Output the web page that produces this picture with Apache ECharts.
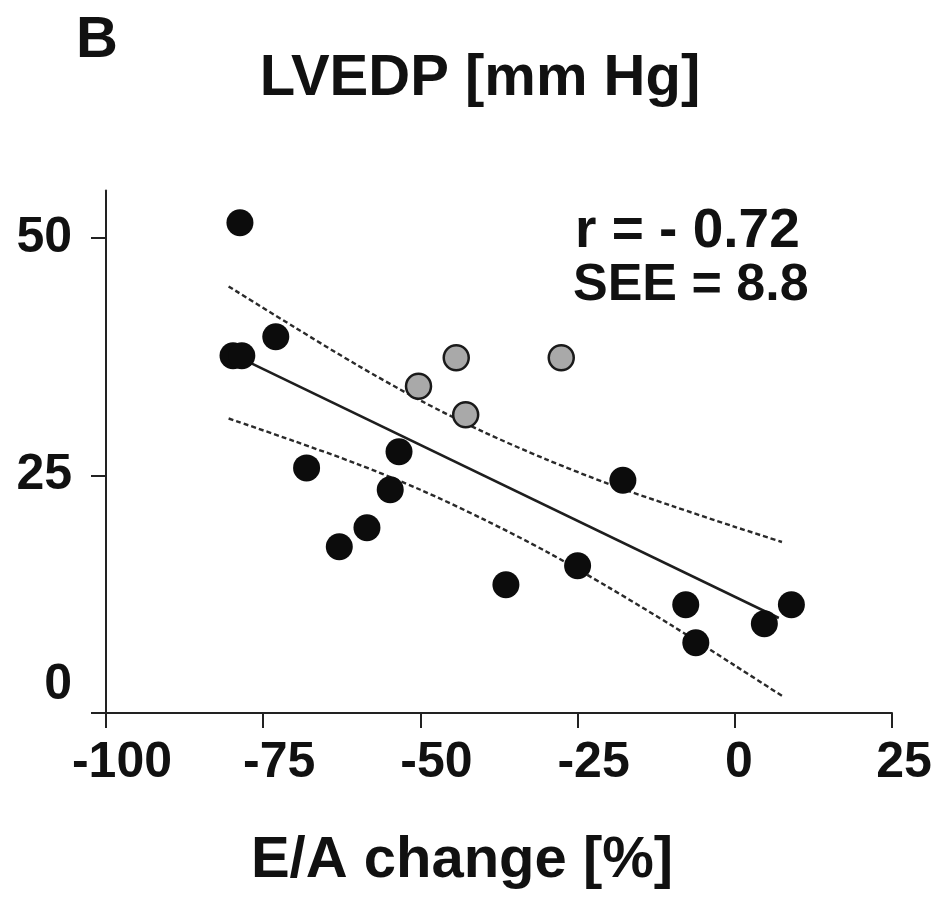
<!DOCTYPE html>
<html>
<head>
<meta charset="utf-8">
<title>LVEDP vs E/A change</title>
<script src="https://cdn.jsdelivr.net/npm/echarts@6/dist/echarts.min.js"></script>
<style>
  html, body { margin: 0; padding: 0; background: #ffffff; }
  #chart { width: 939px; height: 898px; }
</style>
</head>
<body>
<div id="chart"></div>
<script>
// Axis ticks
const xTicks = [-100, -75, -50, -25, 0, 25];
const yTicks = [0, 25, 50];

// Patients shown as filled black circles: [E/A change %, LVEDP mm Hg]
const blackPoints = [
  [-78.7, 51.6],
  [-79.8, 37.6],
  [-78.4, 37.6],
  [-73.0, 39.6],
  [-68.1, 25.8],
  [-62.9, 17.5],
  [-58.5, 19.5],
  [-54.8, 23.5],
  [-53.4, 27.5],
  [-36.4, 13.5],
  [-25.0, 15.5],
  [-17.8, 24.5],
  [-7.8, 11.4],
  [-6.2, 7.4],
  [4.7, 9.4],
  [9.0, 11.4]
];

// Patients shown as grey circles
const greyPoints = [
  [-50.3, 34.4],
  [-44.3, 37.4],
  [-42.8, 31.4],
  [-27.6, 37.4]
];

// Regression line end points
const regX = [-80, 7];
const regY = [37.8, 10.0];

// Confidence band, sampled along E/A change
const bandX = [-80.5, -70, -60, -50, -40, -30, -20, -10, 0, 7.5];
const bandUpper = [44.9, 40.6, 36.6, 32.9, 29.6, 26.7, 24.1, 21.8, 19.6, 18.0];
const bandLower = [31.0, 28.6, 26.2, 23.5, 20.4, 17.0, 13.2, 9.2, 5.0, 1.8];

const statLines = ['r = - 0.72', 'SEE = 8.8'];

const FONT = '"Liberation Sans", Arial, Helvetica, sans-serif';
const INK = '#111111';

const zip = (xs, ys) => xs.map((x, i) => [x, ys[i]]);

const labelFont = { fontSize: 50, fontWeight: 'bold', fontFamily: FONT, color: INK };

const chart = echarts.init(document.getElementById('chart'), null, { renderer: 'canvas' });

chart.setOption({
  backgroundColor: '#ffffff',
  animation: false,
  grid: { left: 106, right: 47, top: 190.5, bottom: 185 },
  xAxis: {
    type: 'value',
    min: xTicks[0],
    max: xTicks[xTicks.length - 1],
    interval: 25,
    splitLine: { show: false },
    axisLine: { onZero: false, lineStyle: { color: '#222', width: 2 } },
    axisTick: { length: 15, lineStyle: { color: '#222', width: 2 } },
    axisLabel: {
      margin: 50,
      verticalAlign: 'middle',
      formatter: v => v < 0 ? '{n|' + v + '}' : (v === 0 ? '{z|0}' : '{p|' + v + '}'),
      rich: {
        n: Object.assign({ padding: [0, 0, 0, 32] }, labelFont),
        z: Object.assign({ padding: [0, 0, 0, 8] }, labelFont),
        p: Object.assign({ padding: [0, 0, 0, 24] }, labelFont)
      }
    }
  },
  yAxis: {
    type: 'value',
    min: 0,
    max: 55,
    splitLine: { show: false },
    axisLine: { onZero: false, lineStyle: { color: '#222', width: 2 } },
    axisTick: { length: 15, lineStyle: { color: '#222', width: 2 }, customValues: yTicks },
    axisLabel: {
      margin: 34,
      customValues: yTicks,
      formatter: v => v === 0 ? '{z|0}' : '{a|' + v + '}',
      rich: {
        a: Object.assign({}, labelFont),
        z: Object.assign({ padding: [0, 0, 56, 0] }, labelFont)
      }
    }
  },
  series: [
    {
      name: 'regression',
      type: 'line',
      data: zip(regX, regY),
      symbol: 'none',
      silent: true,
      lineStyle: { color: '#1e1e1e', width: 2.5 },
      z: 2
    },
    {
      name: 'upper band',
      type: 'line',
      data: zip(bandX, bandUpper),
      symbol: 'none',
      smooth: 0.3,
      silent: true,
      lineStyle: { color: '#2a2a2a', width: 2.4, type: [5, 3] },
      z: 2
    },
    {
      name: 'lower band',
      type: 'line',
      data: zip(bandX, bandLower),
      symbol: 'none',
      smooth: 0.3,
      silent: true,
      lineStyle: { color: '#2a2a2a', width: 2.4, type: [5, 3] },
      z: 2
    },
    {
      name: 'black',
      type: 'scatter',
      data: blackPoints,
      symbol: 'circle',
      symbolSize: 27,
      itemStyle: { color: '#0c0c0c', opacity: 1 },
      z: 5
    },
    {
      name: 'grey',
      type: 'scatter',
      data: greyPoints,
      symbol: 'circle',
      symbolSize: 25,
      itemStyle: { color: '#a9a9a9', borderColor: '#1a1a1a', borderWidth: 2.5, opacity: 1 },
      z: 5
    }
  ],
  graphic: [
    {
      type: 'text', left: 76, top: 12,
      style: { text: 'B', font: 'bold 58px ' + FONT, fill: INK }
    },
    {
      type: 'text', x: 480, y: 79,
      style: { text: 'LVEDP [mm Hg]', font: 'bold 58px ' + FONT, fill: INK, align: 'center', verticalAlign: 'middle' }
    },
    {
      type: 'text', x: 575, y: 232,
      style: { text: statLines[0], font: 'bold 55px ' + FONT, fill: INK, align: 'left', verticalAlign: 'middle' }
    },
    {
      type: 'text', x: 573, y: 286,
      style: { text: statLines[1], font: 'bold 52px ' + FONT, fill: INK, align: 'left', verticalAlign: 'middle' }
    },
    {
      type: 'text', x: 462, y: 861,
      style: { text: 'E/A change [%]', font: 'bold 58px ' + FONT, fill: INK, align: 'center', verticalAlign: 'middle' }
    }
  ]
});
</script>
</body>
</html>
